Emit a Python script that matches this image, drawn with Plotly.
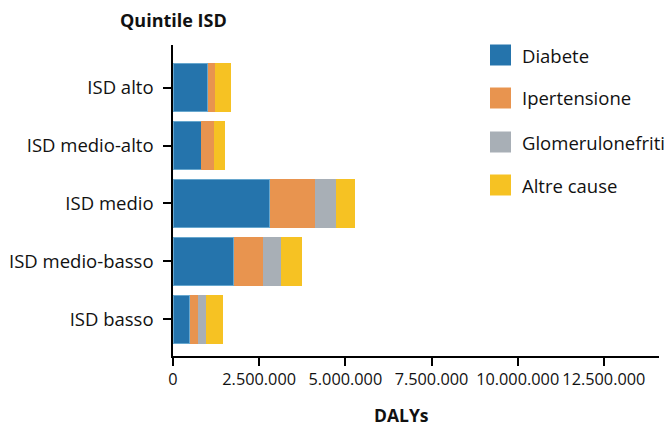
import plotly.graph_objects as go

categories = ["ISD alto", "ISD medio-alto", "ISD medio", "ISD medio-basso", "ISD basso"]
series_names = ["Diabete", "Ipertensione", "Glomerulonefriti", "Altre cause"]
diabete = [1005000, 822000, 2800000, 1770000, 480000]
ipertensione = [225000, 380000, 1330000, 850000, 240000]
glomerulonefriti = [0, 0, 610000, 500000, 250000]
altre_cause = [460000, 320000, 550000, 610000, 490000]
x_tickvals = [0, 2500000, 5000000, 7500000, 10000000, 12500000]
x_ticktext = ["0", "2.500.000", "5.000.000", "7.500.000", "10.000.000", "12.500.000"]

colors = ["#2574AC", "#E8944F", "#A8AFB6", "#F6C223"]
values = [diabete, ipertensione, glomerulonefriti, altre_cause]

W, H = 670, 426
ml, mr, mt, mb = 173, 11, 45, 70
pw, ph = W - ml - mr, H - mt - mb
FONT = "Open Sans"

fig = go.Figure()
for i, (name, vals, col) in enumerate(zip(series_names, values, colors)):
    fig.add_trace(go.Bar(
        y=categories, x=vals, name=name, orientation="h",
        marker=dict(color=col,
                    line=dict(color="rgba(120,180,215,0.8)" if i == 0 else col,
                              width=1.5 if i == 0 else 0)),
        showlegend=False,
    ))

def px2paper(x, y):
    return (x - ml) / pw, (H - mb - y) / ph

shapes = []
annotations = []
legend_y = [55, 98, 142, 185]
for name, col, cy in zip(series_names, colors, legend_y):
    x0, y0 = px2paper(490, cy - 10.5)
    x1, y1 = px2paper(511, cy + 10.5)
    shapes.append(dict(type="rect", xref="paper", yref="paper", x0=x0, x1=x1,
                       y0=y1, y1=y0, fillcolor=col, line=dict(width=0)))
    tx, ty = px2paper(520, cy)
    annotations.append(dict(text=name, xref="paper", yref="paper", x=tx, y=ty,
                            xanchor="left", yanchor="middle", showarrow=False,
                            font=dict(family=FONT, size=18.5, color="#111")))

ax, ay = px2paper(173, 20)
annotations.append(dict(text="<b>Quintile ISD</b>", xref="paper", yref="paper",
                        x=ax, y=ay, xanchor="center", yanchor="middle", showarrow=False,
                        font=dict(family=FONT, size=18, color="#111")))
dx, dy = px2paper(401, 415)
annotations.append(dict(text="<b>DALYs</b>", xref="paper", yref="paper",
                        x=dx, y=dy, xanchor="center", yanchor="middle", showarrow=False,
                        font=dict(family=FONT, size=17.5, color="#111")))

fig.update_layout(
    width=W, height=H,
    margin=dict(l=ml, r=mr, t=mt, b=mb, pad=0),
    barmode="stack", bargap=0.17,
    plot_bgcolor="white", paper_bgcolor="white",
    font=dict(family=FONT, size=17, color="#111"),
    xaxis=dict(range=[0, 14100000], tickvals=x_tickvals, ticktext=x_ticktext,
               showgrid=False, zeroline=False, showline=True, linecolor="black",
               linewidth=1.5, ticks="outside", ticklen=8, tickwidth=1.5,
               tickcolor="black", tickfont=dict(size=16.3), tickangle=0,
               automargin=False),
    yaxis=dict(range=[4.63, -0.733], showgrid=False, zeroline=False,
               showline=True, linecolor="black", linewidth=1.5,
               ticks="outside", ticklen=8, tickwidth=1.5, tickcolor="black",
               tickfont=dict(size=18.5), ticklabelstandoff=6, automargin=False),
    shapes=shapes, annotations=annotations,
)

fig.write_html("out.html")
